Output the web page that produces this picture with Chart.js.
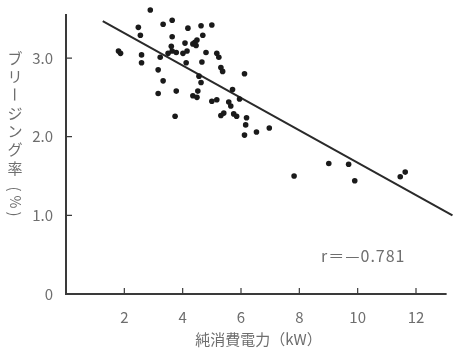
<!DOCTYPE html>
<html>
<head>
<meta charset="utf-8">
<script src="https://cdn.jsdelivr.net/npm/chart.js@4"></script>
<style>
  html, body { margin: 0; padding: 0; background: #fff; }
  #wrap { width: 455px; height: 350px; }
</style>
</head>
<body>
<div id="wrap"><canvas id="chart" width="455" height="350"></canvas></div>
<script>
// net power consumption (kW) vs bleeding rate (%)
const powerKW = [2.89, 2.48, 2.55, 3.33, 3.64, 3.64, 1.80, 1.87, 2.59, 2.59,
  3.23, 3.16, 3.33, 3.16, 3.78, 3.74, 4.18, 4.63, 5.00, 4.69,
  3.61, 3.64, 3.50, 3.78, 4.08, 4.01, 4.15, 4.35, 4.42, 4.49,
  4.46, 4.80, 4.66, 4.12, 4.56, 4.63, 4.35, 4.49, 4.52, 5.00,
  5.17, 5.31, 5.41, 5.17, 5.24, 5.31, 5.37, 5.58, 5.65, 6.12,
  5.71, 5.95, 5.75, 5.85, 6.19, 6.16, 6.12, 6.53, 6.97, 7.82,
  9.01, 9.69, 9.90, 11.46, 11.63];
const bleedRate = [3.61, 3.39, 3.29, 3.43, 3.48, 3.27, 3.09, 3.06, 3.04, 2.94,
  3.01, 2.85, 2.71, 2.55, 2.58, 2.26, 3.38, 3.41, 3.42, 3.29,
  3.15, 3.09, 3.06, 3.07, 3.19, 3.06, 3.09, 3.18, 3.20, 3.23,
  3.16, 3.07, 2.95, 2.94, 2.77, 2.69, 2.52, 2.50, 2.58, 2.45,
  2.47, 2.27, 2.30, 3.06, 3.01, 2.88, 2.83, 2.44, 2.39, 2.80,
  2.60, 2.48, 2.29, 2.26, 2.24, 2.15, 2.02, 2.06, 2.11, 1.50,
  1.66, 1.65, 1.44, 1.49, 1.55];

// regression line end points
const fitX = [1.26, 13.25];
const fitY = [3.47, 1.0];

const xTicks = [2, 4, 6, 8, 10, 12];
const yTicks = [0, 1, 2, 3];
const xTitle = '純消費電力（kW）';
const yTitle = ['ブ', 'リ', 'ー', 'ジ', 'ン', 'グ', '率'];
const yUnit = ['(', '%', ')'];
const rNote = 'r＝—0.781';

const textColor = '#6e6e6e';
const inkColor = '#1a1a1a';
const fontFamily = '"Noto Sans CJK JP", "DejaVu Sans", sans-serif';

const points = powerKW.map((x, i) => ({ x: x, y: bleedRate[i] }));
const fitLine = fitX.map((x, i) => ({ x: x, y: fitY[i] }));

// axis lines, inward ticks, vertical y title and r note
const decorPlugin = {
  id: 'decor',
  afterDraw(chart) {
    const ctx = chart.ctx;
    const xs = chart.scales.x;
    const ys = chart.scales.y;
    const x0 = xs.getPixelForValue(0);
    const y0 = ys.getPixelForValue(0);
    ctx.save();
    ctx.strokeStyle = '#3a3a3a';
    ctx.lineWidth = 2;
    ctx.beginPath();
    ctx.moveTo(x0, ys.getPixelForValue(3.56));
    ctx.lineTo(x0, y0);
    ctx.lineTo(xs.getPixelForValue(13.05), y0);
    ctx.stroke();

    ctx.lineWidth = 1.2;
    ctx.beginPath();
    xTicks.forEach(v => {
      const px = xs.getPixelForValue(v);
      ctx.moveTo(px, y0);
      ctx.lineTo(px, y0 - 6);
    });
    yTicks.slice(1).forEach(v => {
      const py = ys.getPixelForValue(v);
      ctx.moveTo(x0, py);
      ctx.lineTo(x0 + 6, py);
    });
    ctx.stroke();

    // vertical Japanese title, characters stacked upright
    ctx.fillStyle = textColor;
    ctx.font = '15px ' + fontFamily;
    ctx.textAlign = 'center';
    ctx.textBaseline = 'middle';
    yTitle.forEach((ch, i) => {
      ctx.save();
      ctx.translate(15, 58 + i * 18.3);
      if (ch === 'ー') ctx.rotate(Math.PI / 2);
      ctx.fillText(ch, 0, 0);
      ctx.restore();
    });
    // unit in brackets, turned sideways as in vertical print
    [189, 202, 214].forEach((cy, i) => {
      ctx.save();
      ctx.translate(15, cy);
      ctx.rotate(Math.PI / 2);
      ctx.font = (i === 1 ? '14px ' : '15px ') + fontFamily;
      ctx.fillText(yUnit[i], 0, 0);
      ctx.restore();
    });

    ctx.font = '16px ' + fontFamily;
    ctx.textAlign = 'left';
    ctx.letterSpacing = '1px';
    ctx.fillText(rNote, 321, 256);
    ctx.restore();
  }
};

new Chart(document.getElementById('chart'), {
  type: 'scatter',
  data: {
    datasets: [
      {
        label: 'data',
        data: points,
        backgroundColor: inkColor,
        borderColor: inkColor,
        pointRadius: 2.8,
        pointBorderWidth: 0,
        clip: false
      },
      {
        label: 'fit',
        type: 'line',
        data: fitLine,
        borderColor: '#2a2a2a',
        borderWidth: 2,
        pointRadius: 0,
        fill: false,
        clip: false
      }
    ]
  },
  options: {
    responsive: false,
    animation: false,
    events: [],
    layout: { padding: { top: 3, right: 1, left: 0, bottom: 0 } },
    plugins: {
      legend: { display: false },
      tooltip: { enabled: false }
    },
    scales: {
      x: {
        type: 'linear',
        min: 0,
        max: 13.2,
        grid: { display: false },
        border: { display: false },
        afterBuildTicks: s => { s.ticks = xTicks.map(v => ({ value: v })); },
        afterFit: s => { s.height = 56; },
        ticks: {
          color: textColor,
          padding: 6,
          maxRotation: 0,
          font: { family: fontFamily, size: 15 }
        },
        title: {
          display: true,
          text: xTitle,
          color: textColor,
          padding: { top: 2, bottom: 2 },
          font: { family: fontFamily, size: 15 }
        }
      },
      y: {
        type: 'linear',
        min: 0,
        max: 3.56,
        grid: { display: false },
        border: { display: false },
        afterBuildTicks: s => { s.ticks = yTicks.map(v => ({ value: v })); },
        afterFit: s => { s.width = 66; },
        ticks: {
          color: textColor,
          padding: 5,
          font: { family: fontFamily, size: 15 },
          callback: v => (v === 0 ? '0' : v.toFixed(1))
        }
      }
    }
  },
  plugins: [decorPlugin]
});
</script>
</body>
</html>
